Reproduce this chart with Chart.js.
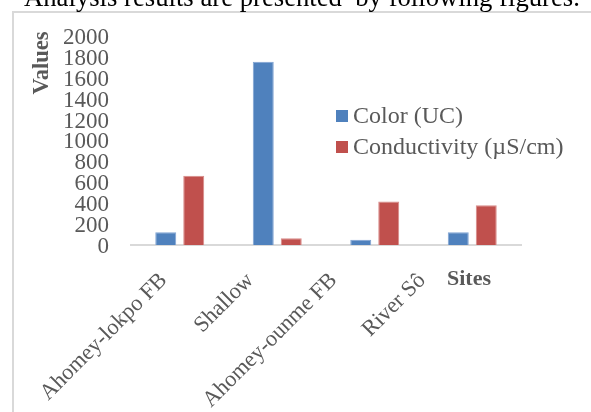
<!DOCTYPE html>
<html>
<head>
<meta charset="utf-8">
<script src="https://cdn.jsdelivr.net/npm/chart.js@4.4.0/dist/chart.umd.min.js"></script>
<style>
  html, body { margin: 0; padding: 0; background: #ffffff; overflow: hidden; }
  #wrap { position: relative; width: 591px; height: 412px; }
  canvas { position: absolute; left: 0; top: 0; }
</style>
</head>
<body>
<div id="wrap"><canvas id="c" width="591" height="412"></canvas></div>
<script>
const categories = ["Ahomey-lokpo FB", "Shallow", "Ahomey-ounme FB", "River Sô"];
const colorUC = [123, 1753, 50, 123];
const conductivity = [661, 64, 415, 380];
const seriesNames = ["Color (UC)", "Conductivity (µS/cm)"];
const yTicks = [0, 200, 400, 600, 800, 1000, 1200, 1400, 1600, 1800, 2000];
const headerText = "Analysis results are presented  by following figures.";
const yTitle = "Values";
const xTitle = "Sites";

const SERIF = "'Liberation Serif', 'Times New Roman', serif";
const GREY = "#595959";
// per-label horizontal shift of the rotated category labels (style only)
const labelShift = [-16, -27, -41, -50];

const decorPlugin = {
  id: "decor",
  beforeDraw(chart) {
    const ctx = chart.ctx;
    ctx.save();
    ctx.fillStyle = "#ffffff";
    ctx.fillRect(0, 0, chart.width, chart.height);
    ctx.strokeStyle = "#d9d9d9";
    ctx.lineWidth = 2;
    ctx.strokeRect(13, 12, 700, 500);
    ctx.fillStyle = "#000000";
    ctx.font = "26.7px " + SERIF;
    ctx.textBaseline = "alphabetic";
    ctx.textAlign = "left";
    ctx.fillText(headerText, 24, 6);
    ctx.restore();
  },
  afterDraw(chart) {
    const ctx = chart.ctx;
    const xs = chart.scales.x;
    const area = chart.chartArea;
    ctx.save();
    ctx.fillStyle = GREY;
    ctx.font = "22.5px " + SERIF;
    ctx.textAlign = "right";
    ctx.textBaseline = "middle";
    chart.data.labels.forEach((lab, i) => {
      const x = xs.getPixelForValue(i) + labelShift[i];
      const y = area.bottom + 32;
      ctx.save();
      ctx.translate(x, y);
      ctx.rotate(-Math.PI / 4);
      ctx.fillText(lab, 0, 0);
      ctx.restore();
    });
    ctx.restore();
    ctx.save();
    ctx.fillStyle = GREY;
    ctx.font = "bold 22.5px " + SERIF;
    ctx.textAlign = "center";
    ctx.textBaseline = "middle";
    ctx.translate(42, 63);
    ctx.rotate(-Math.PI / 2);
    ctx.fillText(yTitle, 0, 0);
    ctx.restore();
    ctx.save();
    ctx.fillStyle = GREY;
    ctx.font = "bold 22px " + SERIF;
    ctx.textAlign = "left";
    ctx.textBaseline = "middle";
    ctx.fillText(xTitle, 447, 279);
    ctx.font = "24px " + SERIF;
    const ys = [116, 147];
    chart.data.datasets.forEach((ds, i) => {
      ctx.fillStyle = ds.backgroundColor;
      ctx.fillRect(336, ys[i] - 6, 12, 12);
      ctx.fillStyle = GREY;
      ctx.fillText(ds.label, 353, ys[i] + 1);
    });
    ctx.restore();
  }
};

new Chart(document.getElementById("c"), {
  type: "bar",
  data: {
    labels: categories,
    datasets: [
      { label: seriesNames[0], data: colorUC, backgroundColor: "#4F81BD", borderColor: "#7FA3D3", borderWidth: 1 },
      { label: seriesNames[1], data: conductivity, backgroundColor: "#C0504D", borderColor: "#D88A88", borderWidth: 1 }
    ]
  },
  options: {
    responsive: false,
    animation: false,
    devicePixelRatio: 1,
    layout: { padding: { left: 0, right: 70, top: 35, bottom: 0 } },
    datasets: { bar: { categoryPercentage: 0.574, barPercentage: 0.75 } },
    plugins: { legend: { display: false }, tooltip: { enabled: false }, title: { display: false } },
    scales: {
      x: {
        grid: { display: false, drawTicks: false },
        border: { display: true, color: "#d9d9d9", width: 2 },
        ticks: { display: false },
        afterFit(scale) { scale.height = 167; }
      },
      y: {
        min: 0,
        max: 2000,
        afterBuildTicks(scale) { scale.ticks = yTicks.map(v => ({ value: v })); },
        grid: { display: false, drawTicks: false },
        border: { display: false },
        ticks: {
          color: GREY,
          font: { family: SERIF, size: 23 },
          padding: 22,
          labelOffset: 2,
          autoSkip: false,
          callback: (v) => String(v)
        },
        afterFit(scale) { scale.width = 131; }
      }
    }
  },
  plugins: [decorPlugin]
});
</script>
</body>
</html>
